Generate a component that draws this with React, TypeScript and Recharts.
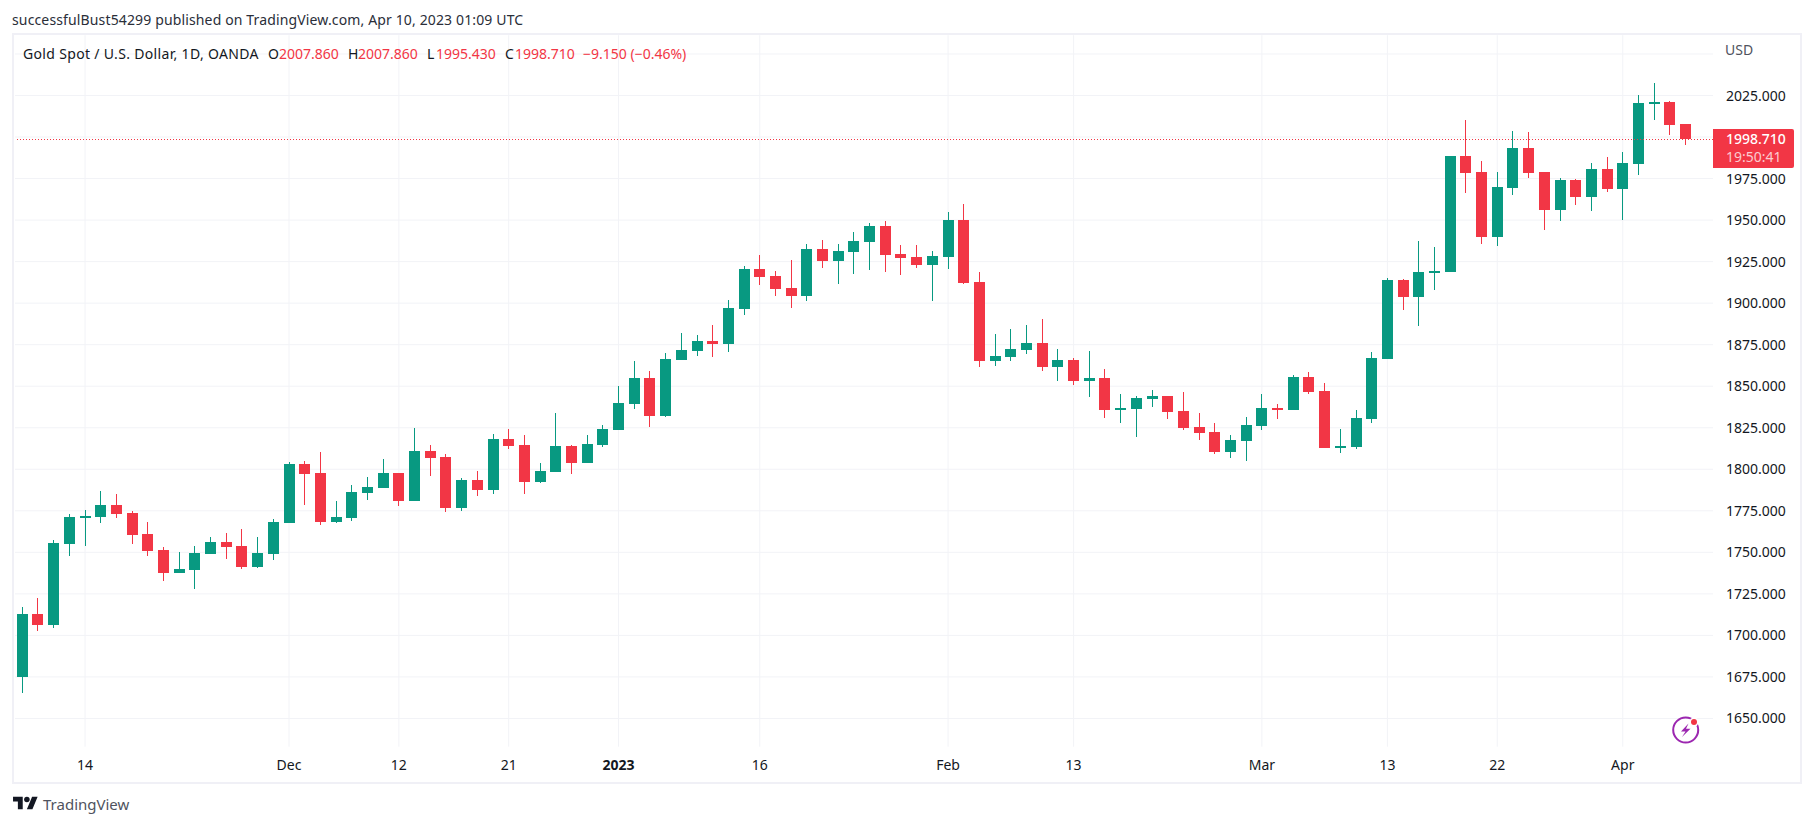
import React from 'react';
import { Bar, CartesianGrid, ComposedChart, ReferenceLine, XAxis, YAxis } from 'recharts';

const opens = [
  1674.8, 1712.8, 1706.1, 1754.9, 1770.6, 1771.2, 1778.4, 1773.6, 1760.9, 1751.3, 1737.5, 1739.3, 1748.9, 1756.1, 1753.7, 1741.1, 1748.9, 1767.6,
  1803.1, 1797.7, 1768.2, 1770.6, 1785.6, 1788.6, 1797.7, 1780.8, 1810.9, 1807.3, 1776.6, 1793.4, 1787.4, 1818.1, 1814.5, 1792.2, 1798.2, 1813.9,
  1803.7, 1814.5, 1823.5, 1839.2, 1854.8, 1831.9, 1865.7, 1871.1, 1877.1, 1875.3, 1896.4, 1920.4, 1916.2, 1909.0, 1904.2, 1932.5, 1925.3, 1930.7,
  1936.7, 1946.3, 1929.5, 1927.7, 1922.9, 1927.7, 1949.9, 1912.6, 1865.1, 1867.5, 1871.7, 1875.9, 1861.5, 1865.7, 1853.0, 1854.8, 1835.6, 1836.2,
  1842.2, 1844.0, 1835.0, 1825.3, 1822.3, 1810.3, 1816.9, 1825.9, 1836.8, 1835.6, 1855.4, 1847.0, 1812.7, 1813.3, 1830.2, 1866.3, 1913.8, 1903.6,
  1918.0, 1918.6, 1988.5, 1978.8, 1939.7, 1969.2, 1993.3, 1978.8, 1956.0, 1974.0, 1963.8, 1980.6, 1968.6, 1983.6, 2019.8, 2021.0, 2007.86,
];
const highs = [
  1717.0, 1722.4, 1757.3, 1773.0, 1775.4, 1786.8, 1785.0, 1774.8, 1768.2, 1753.1, 1750.1, 1753.7, 1759.1, 1761.5, 1763.9, 1759.1, 1770.0, 1804.3,
  1804.9, 1810.3, 1780.8, 1790.4, 1795.3, 1806.1, 1797.7, 1824.7, 1814.5, 1809.1, 1794.6, 1798.9, 1821.1, 1824.1, 1820.5, 1803.7, 1833.8, 1814.5,
  1820.5, 1826.5, 1850.0, 1865.0, 1859.0, 1869.9, 1881.9, 1880.7, 1886.7, 1901.8, 1922.3, 1928.9, 1919.2, 1925.9, 1935.5, 1937.9, 1935.5, 1942.7,
  1948.1, 1949.3, 1934.9, 1934.9, 1931.3, 1954.8, 1959.6, 1918.6, 1881.3, 1884.3, 1886.7, 1890.3, 1872.3, 1866.9, 1871.1, 1860.3, 1845.2, 1844.0,
  1847.6, 1844.0, 1846.4, 1833.8, 1827.7, 1820.5, 1831.4, 1845.2, 1839.2, 1856.6, 1858.4, 1851.8, 1824.1, 1835.6, 1870.5, 1915.0, 1914.4, 1937.3,
  1933.7, 1988.5, 2010.1, 1985.5, 1978.8, 2003.5, 2002.9, 1978.8, 1975.2, 1974.6, 1984.2, 1987.9, 1990.9, 2025.2, 2032.4, 2021.6, 2007.86,
];
const lows = [
  1665.2, 1702.5, 1704.3, 1747.7, 1753.7, 1767.6, 1770.6, 1754.9, 1747.7, 1732.7, 1737.5, 1727.8, 1748.9, 1745.9, 1739.9, 1740.5, 1745.3, 1767.6,
  1778.4, 1766.4, 1767.6, 1768.8, 1781.4, 1788.6, 1777.8, 1780.8, 1795.9, 1774.2, 1774.8, 1783.8, 1785.0, 1812.1, 1785.0, 1791.6, 1798.2, 1797.0,
  1803.7, 1813.3, 1823.5, 1836.2, 1825.3, 1831.3, 1865.7, 1868.1, 1867.5, 1870.5, 1892.8, 1910.8, 1904.2, 1897.0, 1901.2, 1921.0, 1911.4, 1917.4,
  1919.8, 1918.6, 1916.8, 1921.0, 1901.2, 1920.4, 1911.4, 1861.5, 1862.1, 1865.1, 1869.3, 1859.1, 1853.0, 1850.6, 1843.4, 1830.8, 1827.8, 1819.3,
  1837.4, 1830.2, 1823.5, 1817.5, 1809.1, 1806.7, 1804.9, 1823.5, 1830.2, 1835.6, 1845.2, 1812.7, 1809.7, 1812.1, 1827.8, 1866.3, 1895.8, 1886.1,
  1907.8, 1918.6, 1966.2, 1935.5, 1934.3, 1965.0, 1975.2, 1943.9, 1949.3, 1959.0, 1955.4, 1966.8, 1949.9, 1977.0, 2010.1, 2001.1, 1995.43,
];
const closes = [
  1712.8, 1706.1, 1755.5, 1771.2, 1771.8, 1778.4, 1773.0, 1760.3, 1750.7, 1737.5, 1739.9, 1749.5, 1756.1, 1753.1, 1741.1, 1749.5, 1768.2, 1803.1,
  1797.1, 1768.2, 1771.2, 1786.2, 1789.2, 1797.7, 1780.8, 1810.9, 1806.7, 1776.6, 1793.4, 1787.4, 1818.1, 1813.9, 1792.2, 1798.8, 1813.9, 1803.7,
  1815.1, 1824.1, 1839.8, 1854.8, 1831.9, 1866.3, 1871.7, 1877.1, 1875.3, 1897.0, 1920.4, 1915.6, 1908.4, 1904.2, 1932.5, 1925.3, 1931.3, 1937.3,
  1946.3, 1928.9, 1927.1, 1922.9, 1928.3, 1949.9, 1912.0, 1865.1, 1868.1, 1872.3, 1875.9, 1861.5, 1865.7, 1853.0, 1854.8, 1835.6, 1836.8, 1842.8,
  1844.0, 1834.4, 1824.7, 1821.7, 1810.3, 1817.5, 1826.5, 1836.8, 1835.6, 1855.4, 1846.4, 1812.7, 1813.9, 1830.8, 1866.9, 1913.8, 1903.6, 1918.6,
  1919.2, 1988.5, 1978.2, 1939.7, 1969.8, 1993.3, 1978.2, 1956.0, 1974.0, 1963.8, 1980.6, 1968.6, 1984.2, 2020.4, 2021.0, 2007.1, 1998.71,
];

const priceTicks = [1650, 1675, 1700, 1725, 1750, 1775, 1800, 1825, 1850, 1875, 1900, 1925, 1950, 1975, 2000, 2025, 2050];
const hiddenPriceTicks = [2000, 2050];
const timeTicks = [4, 17, 24, 31, 38, 47, 59, 67, 79, 87, 94, 102];
const timeLabels = ['14', 'Dec', '12', '21', '2023', '16', 'Feb', '13', 'Mar', '13', '22', 'Apr'];
const lastClose = 1998.71;

const GREEN = '#089981';
const RED = '#F23645';
const INK = '#131722';
const FONT = '"Noto Sans", sans-serif';

// recharts truncates the bar offset inside the band, this puts the candle back on its tick
const BAND_OFFSET_FIX = 0.345;

const candles = opens.map((open, index) => ({
  index,
  open,
  high: highs[index],
  low: lows[index],
  close: closes[index],
}));

// wick spans the whole bar, body is placed inside it from the same scale
const Candle = (props: any) => {
  const { x, y, width, height, payload } = props;
  const { open, close, high, low } = payload;
  const pxPerUsd = height / (high - low);
  const color = close >= open ? GREEN : RED;
  const bodyTop = Math.round(y + (high - Math.max(open, close)) * pxPerUsd);
  const bodyBottom = Math.round(y + (high - Math.min(open, close)) * pxPerUsd);
  const mid = Math.floor(x + width / 2 + BAND_OFFSET_FIX);
  return (
    <g>
      <rect x={mid} y={Math.round(y)} width={1} height={Math.round(height)} fill={color} />
      <rect x={mid - 5} y={bodyTop} width={11} height={Math.max(bodyBottom - bodyTop, 2)} fill={color} />
    </g>
  );
};

const PriceTick = (props: any) => {
  const { x, y, payload } = props;
  if (hiddenPriceTicks.includes(payload.value)) return null;
  return (
    <text x={x} y={y} dy={5} fontFamily={FONT} fontSize={14} fill={INK}>
      {payload.value.toFixed(3)}
    </text>
  );
};

const TimeTick = (props: any) => {
  const { x, y, payload } = props;
  const label = timeLabels[timeTicks.indexOf(payload.value)];
  return (
    <text x={x} y={y} dy={15} textAnchor="middle" fontFamily={FONT} fontSize={14} fontWeight={label === '2023' ? 700 : 400} fill={INK}>
      {label}
    </text>
  );
};

// snapped to a pixel row so the dots stay sharp
const DottedLine = (props: any) => {
  const rowY = Math.floor(props.y1) + 0.5;
  return <line x1={props.x1} x2={props.x2} y1={rowY} y2={rowY} stroke={RED} strokeWidth={1} strokeDasharray="1 2" />;
};

const PriceTag = (props: any) => {
  const right = props.viewBox.x + props.viewBox.width;
  const lineY = props.viewBox.y;
  const top = Math.round(lineY - 10);
  return (
    <g>
      <path d={`M${right} ${top}h79a2 2 0 0 1 2 2v35a2 2 0 0 1 -2 2h-79z`} fill={RED} />
      <text x={right + 13} y={lineY + 5} fontFamily={FONT} fontSize={14} fontWeight={500} fill="#fff">1998.710</text>
      <text x={right + 13} y={lineY + 23} fontFamily={FONT} fontSize={14} fill="#fff" fillOpacity={0.75}>19:50:41</text>
    </g>
  );
};

const textAt = (left: number, top: number, color: string, size = 14, spacing = 0) => ({
  position: 'absolute' as const,
  left,
  top,
  color,
  fontFamily: FONT,
  fontSize: size,
  letterSpacing: spacing,
  lineHeight: '20px',
  whiteSpace: 'nowrap' as const,
});

export default function App() {
  return (
    <div style={{ position: 'absolute', left: 0, top: 0, width: 1813, height: 826, background: '#fff', overflow: 'hidden' }}>
      <div style={{ position: 'absolute', left: 12, top: 33, width: 1786, height: 747, border: '2px solid #F0F0F6' }} />
      <ComposedChart
        width={1813}
        height={826}
        data={candles}
        margin={{ top: 35.2, right: 13, bottom: 49.3, left: 15 }}
        style={{ position: 'absolute', left: 0, top: 0 }}
      >
        <CartesianGrid stroke="#F2F3F7" syncWithTicks />
        <XAxis
          dataKey="index"
          type="number"
          domain={[-0.465, 107.75]}
          ticks={timeTicks}
          interval={0}
          allowDataOverflow
          axisLine={false}
          tickLine={false}
          height={30}
          tick={<TimeTick />}
        />
        <YAxis
          orientation="right"
          type="number"
          domain={[1633, 2061.3]}
          ticks={priceTicks}
          interval={0}
          allowDataOverflow
          axisLine={false}
          tickLine={false}
          width={87}
          tickMargin={7}
          tick={<PriceTick />}
        />
        <Bar dataKey={(d: any) => [d.low, d.high]} barSize={11} shape={<Candle />} isAnimationActive={false} />
        <ReferenceLine y={lastClose} shape={(p: any) => <DottedLine {...p} />} label={(p: any) => <PriceTag {...p} />} />
      </ComposedChart>

      <div style={textAt(12, 10, '#2A2E39', 14, 0.14)}>successfulBust54299 published on TradingView.com, Apr 10, 2023 01:09 UTC</div>
      <div style={textAt(23, 44, INK, 14, 0.33)}>Gold Spot / U.S. Dollar, 1D, OANDA</div>
      <div style={textAt(268, 44, INK)}>O</div>
      <div style={textAt(279, 44, RED)}>2007.860</div>
      <div style={textAt(348, 44, INK)}>H</div>
      <div style={textAt(358, 44, RED)}>2007.860</div>
      <div style={textAt(427, 44, INK)}>L</div>
      <div style={textAt(436, 44, RED)}>1995.430</div>
      <div style={textAt(505, 44, INK)}>C</div>
      <div style={textAt(515, 44, RED)}>1998.710</div>
      <div style={textAt(583, 44, RED)}>−9.150 (−0.46%)</div>
      <div style={textAt(1725, 40, '#50535E')}>USD</div>

      <svg style={{ position: 'absolute', left: 1670, top: 714 }} width={32} height={32} viewBox="0 0 32 32">
        <circle cx={15.7} cy={16} r={12.5} fill="none" stroke="#9C27B0" strokeWidth={2} />
        <path d="M18.5 9.5 L11 17.5 H15.5 L12 23 L20.5 14.8 H16 Z" fill="#9C27B0" />
        <circle cx={24} cy={8} r={4.5} fill="#fff" />
        <circle cx={24} cy={8} r={3} fill={RED} />
      </svg>

      <svg style={{ position: 'absolute', left: 13, top: 794 }} width={25} height={19.4} viewBox="0 0 36 28">
        <path d="M14 22H7V11H0V4h14v18zM28 22h-8l7.5-18h8L28 22z" fill={INK} />
        <circle cx={20} cy={8} r={4} fill={INK} />
      </svg>
      <div style={textAt(43, 794, '#50535E', 15)}>TradingView</div>
    </div>
  );
}
